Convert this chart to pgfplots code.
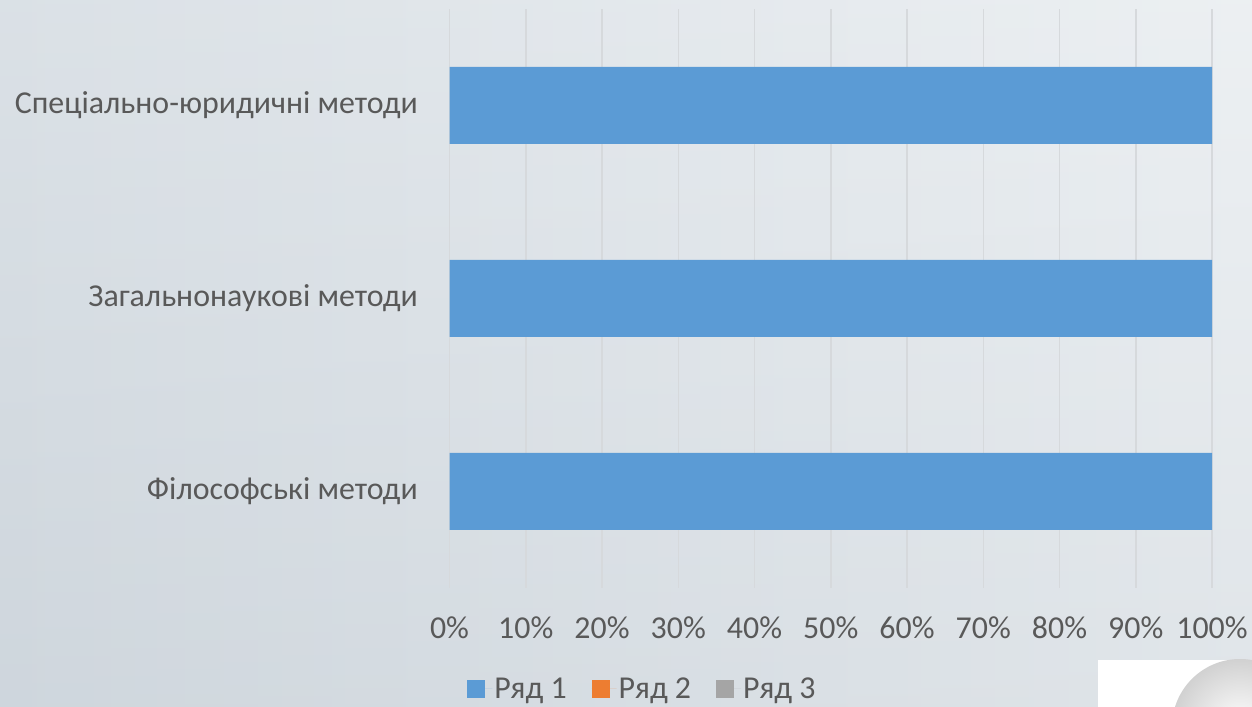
\documentclass[border=0pt]{standalone}
\usepackage{fontspec}
\setmainfont{Carlito}
\usepackage{pgfplots}
\pgfplotsset{compat=1.18}
\definecolor{barA}{HTML}{5B9BD5}
\definecolor{barB}{HTML}{ED7D31}
\definecolor{barC}{HTML}{A5A5A5}
\definecolor{txt}{HTML}{595959}
\definecolor{gridc}{HTML}{D6D9DC}
\definecolor{bgl}{HTML}{EAEEF1}
\definecolor{bgd}{HTML}{D6DDE3}
\definecolor{bgv}{HTML}{9AA6B2}
\begin{document}
\begin{tikzpicture}[x=1bp,y=1bp]
\useasboundingbox (0,0) rectangle (1252,707);
\shade[left color=bgd, right color=bgl] (0,0) rectangle (1252,707);
\shade[top color=white, bottom color=bgv, opacity=0.12] (0,0) rectangle (1252,707);
\fill[white] (1098,0) rectangle (1252,47);
\begin{scope}
\clip (1098,0) rectangle (1252,47);
\shade[inner color=white, outer color=black!18] (1240,-20) circle (68);
\end{scope}
\begin{axis}[
  at={(449.5bp,119bp)}, anchor=south west,
  scale only axis, width=762.5bp, height=579bp,
  xbar stacked, bar width=77bp,
  xmin=0, xmax=100, ymin=-0.5, ymax=2.5,
  ytick={0,1,2},
  yticklabels={Філософські методи, Загальнонаукові методи, Спеціально-юридичні методи},
  xtick={0,10,...,100},
  xticklabels={0\%,10\%,20\%,30\%,40\%,50\%,60\%,70\%,80\%,90\%,100\%},
  axis line style={draw=none}, major tick length=0pt,
  xmajorgrids, grid style={color=gridc, line width=1.5bp},
  ticklabel style={font=\fontsize{32}{38}\selectfont, text=txt},
  xticklabel style={anchor=center, yshift=-40bp},
  yticklabel style={anchor=east, inner sep=0pt, xshift=-31.5bp},
  legend style={at={(0.253,-0.174)}, anchor=center, legend columns=3,
    draw=none, fill=none, font=\fontsize{32}{38}\selectfont, text=txt,
    /tikz/every even column/.append style={column sep=23bp}},
  legend image code/.code={\fill[#1] (0bp,-9bp) rectangle (18bp,9bp); \path (0bp,0bp) -- (25bp,0bp);},
]
\addplot[fill=barA, draw=none] coordinates {(100,0) (100,1) (100,2)};
\addplot[fill=barB, draw=none] coordinates {(0,0) (0,1) (0,2)};
\addplot[fill=barC, draw=none] coordinates {(0,0) (0,1) (0,2)};
\legend{Ряд 1, Ряд 2, Ряд 3}
\end{axis}
\end{tikzpicture}
\end{document}
